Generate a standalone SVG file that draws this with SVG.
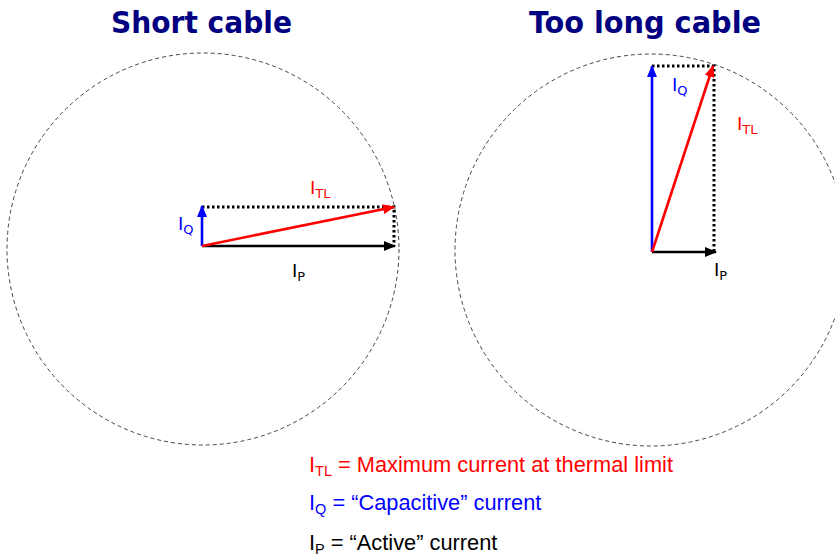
<svg xmlns="http://www.w3.org/2000/svg" width="835" height="559" viewBox="0 0 835 559">
<style>
.title{font-family:"DejaVu Sans Condensed","DejaVu Sans",sans-serif;font-weight:bold;font-size:31px;fill:#000080;font-stretch:condensed}
.circ{fill:none;stroke:#444;stroke-width:1;stroke-dasharray:4 3}
.dot{fill:none;stroke:#000;stroke-width:3;stroke-dasharray:2.5 2.5}
.vp{stroke:#000;stroke-width:2.6;fill:none}
.vq{stroke:#0000ff;stroke-width:2.6;fill:none}
.vtl{stroke:#ff0000;stroke-width:2.6;fill:none}
.lbl{font-family:"DejaVu Sans",Verdana,sans-serif;font-size:18px}
.sub{font-size:13px}
.leg{font-family:"Liberation Sans",Arial,sans-serif;font-size:21.8px}
.lsub{font-size:14.5px}
</style>
<defs>
<marker id="ak" markerUnits="userSpaceOnUse" markerWidth="12" markerHeight="10" refX="11" refY="5" orient="auto"><path d="M0,0 L12,5 L0,10 Z" fill="#000"/></marker>
<marker id="ab" markerUnits="userSpaceOnUse" markerWidth="12" markerHeight="10" refX="11" refY="5" orient="auto"><path d="M0,0 L12,5 L0,10 Z" fill="#0000ff"/></marker>
<marker id="ar" markerUnits="userSpaceOnUse" markerWidth="12" markerHeight="10" refX="11" refY="5" orient="auto"><path d="M0,0 L12,5 L0,10 Z" fill="#ff0000"/></marker>
</defs>
<rect width="835" height="559" fill="#fff"/>
<g id="titles">
<text class="title" x="111" y="33" textLength="181" lengthAdjust="spacingAndGlyphs">Short cable</text>
<text class="title" x="529" y="33" textLength="232" lengthAdjust="spacingAndGlyphs">Too long cable</text>
</g>
<g id="circles">
<circle class="circ" cx="203" cy="249" r="196"/>
<circle class="circ" cx="651" cy="250" r="196"/>
</g>
<g id="connectors">
<path class="dot" d="M202,207 L394,207 L394,246"/>
<line class="vp" x1="202" y1="246" x2="395" y2="246" marker-end="url(#ak)"/>
<line class="vq" x1="202" y1="246" x2="202" y2="206" marker-end="url(#ab)"/>
<line class="vtl" x1="202" y1="246" x2="394" y2="207" marker-end="url(#ar)"/>
<path class="dot" d="M652,66 L714,66 L714,252"/>
<line class="vp" x1="652" y1="252" x2="716" y2="252" marker-end="url(#ak)"/>
<line class="vq" x1="652" y1="252" x2="652" y2="66" marker-end="url(#ab)"/>
<line class="vtl" x1="652" y1="252" x2="713" y2="66" marker-end="url(#ar)"/>
</g>
<g id="labels-left">
<text class="lbl" x="310" y="194" fill="#ff0000">I<tspan class="sub" dy="4">TL</tspan></text>
<text class="lbl" x="178" y="230" fill="#0000ff">I<tspan class="sub" dy="4">Q</tspan></text>
<text class="lbl" x="292" y="277" fill="#000">I<tspan class="sub" dy="4">P</tspan></text>
</g>
<g id="labels-right">
<text class="lbl" x="672" y="91" fill="#0000ff">I<tspan class="sub" dy="4">Q</tspan></text>
<text class="lbl" x="737" y="130" fill="#ff0000">I<tspan class="sub" dy="4">TL</tspan></text>
<text class="lbl" x="714" y="276" fill="#000">I<tspan class="sub" dy="4">P</tspan></text>
</g>
<g id="legend">
<text class="leg" x="309" y="472" fill="#ff0000">I<tspan class="lsub" dy="4">TL</tspan><tspan dy="-4"> = Maximum current at thermal limit</tspan></text>
<text class="leg" x="309" y="510" fill="#0000ff">I<tspan class="lsub" dy="4">Q</tspan><tspan dy="-4"> = “Capacitive” current</tspan></text>
<text class="leg" x="309" y="550" fill="#000">I<tspan class="lsub" dy="4">P</tspan><tspan dy="-4"> = “Active” current</tspan></text>
</g>
</svg>
